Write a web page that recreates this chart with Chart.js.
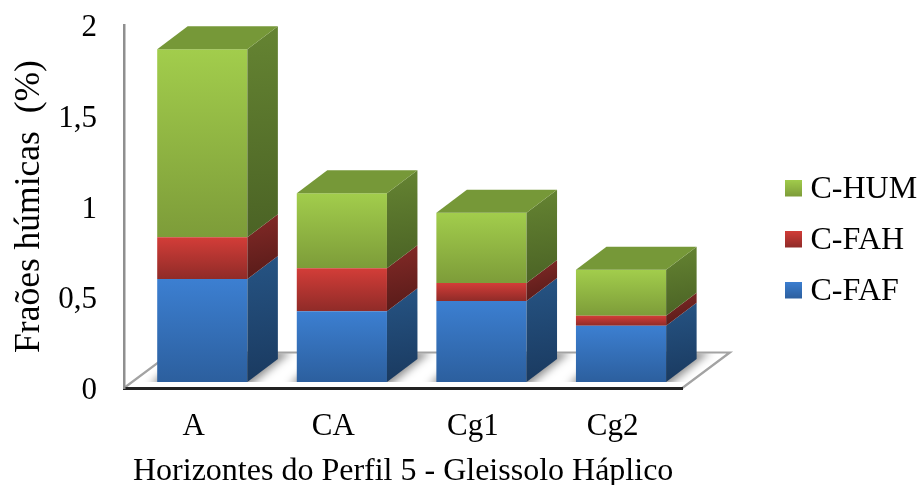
<!DOCTYPE html>
<html>
<head>
<meta charset="utf-8">
<title>Frações húmicas</title>
<script src="https://cdn.jsdelivr.net/npm/chart.js@4/dist/chart.umd.min.js"></script>
<style>
  html, body { margin: 0; padding: 0; background: #fff; }
  canvas { display: block; }
</style>
</head>
<body>
<canvas id="chart" width="919" height="485"></canvas>
<script>
// ---------------------------------data---------------------------------
const horizontes = ["A", "CA", "Cg1", "Cg2"];
const cFaf = [0.567, 0.39, 0.446, 0.31];
const cFah = [0.231, 0.237, 0.1, 0.055];
const cHum = [1.036, 0.413, 0.386, 0.253];
const yMax = 2;
const yStep = 0.5;

// [front top, front bottom, side top, side bottom, top face]
const blues = ['#3c7fd1', '#2c5f9e', '#265484', '#1a3a60', '#2f6299'];
const reds = ['#d33d38', '#8f2b28', '#842a27', '#581b19', '#a02f2b'];
const greens = ['#a2cd4c', '#7d9c39', '#658432', '#4b6325', '#769838'];

// ---------------------------------3d box-------------------------------
const fontName = '"Liberation Serif", "Times New Roman", serif';
const depthX = 30.5;
const depthY = 23;
const liftX = 8.5; // bars stand a bit inside the floor
const liftY = 6;
const floorX = 47.5;
const floorY = 35.5;

function frontFill(ctx, colors, below) {
    const chart = ctx.chart;
    if (!chart.chartArea) return colors[0];
    const i = ctx.dataIndex;
    const start = below.reduce((s, arr) => s + arr[i], 0);
    const y = chart.scales.y;
    const g = chart.ctx.createLinearGradient(0, y.getPixelForValue(start + ctx.raw), 0, y.getPixelForValue(start));
    g.addColorStop(0, colors[0]);
    g.addColorStop(1, colors[1]);
    return g;
}

// legend square, the empty strip below lifts it level with the text
function swatch(colors) {
    const c = document.createElement('canvas');
    c.width = 17;
    c.height = 21;
    const x = c.getContext('2d');
    const g = x.createLinearGradient(0, 0, 0, 17);
    g.addColorStop(0, colors[0]);
    g.addColorStop(1, colors[1]);
    x.fillStyle = g;
    x.fillRect(0, 0, 17, 17);
    return c;
}

function poly(ctx, pts, fill) {
    ctx.beginPath();
    pts.forEach((p, i) => i ? ctx.lineTo(p[0], p[1]) : ctx.moveTo(p[0], p[1]));
    ctx.closePath();
    ctx.fillStyle = fill;
    ctx.fill();
}

const box3d = {
    id: 'box3d',
    beforeDraw(chart) {
        // floor, the front edge comes from the x axis border
        const { ctx, chartArea: a } = chart;
        const backY = a.bottom - floorY;
        ctx.save();
        ctx.strokeStyle = '#a3a3a3';
        ctx.lineWidth = 2.2;
        ctx.beginPath();
        ctx.moveTo(a.left, a.bottom);
        ctx.lineTo(a.left + floorX, backY);
        ctx.lineTo(a.right + floorX, backY);
        ctx.lineTo(a.right, a.bottom);
        ctx.stroke();
        ctx.restore();

        // legend sits further right than the layout would put it
        chart.legend.left = 773.5;
        chart.legend.right = chart.width;
        chart.legend.top = 155;
    },
    beforeDatasetsDraw(chart) {
        const { ctx, chartArea: a } = chart;
        const first = chart.getDatasetMeta(0).data;

        // soft shadow of each bar on the floor
        ctx.save();
        ctx.beginPath();
        ctx.rect(a.left, a.bottom - floorY + 1, a.right + floorX - a.left, floorY - liftY - 1);
        ctx.clip();
        ctx.filter = 'blur(4px)';
        first.forEach(b => {
            const p = b.getProps(['x', 'base', 'width'], true);
            const l = p.x - p.width / 2 + liftX;
            const r = p.x + p.width / 2 + liftX;
            const y = p.base - liftY;
            poly(ctx, [[l - 8, y + 4], [r + 2, y + 4], [r + depthX + 14, y - depthY - 8], [l + depthX, y - depthY - 8]], 'rgba(0,0,0,0.45)');
        });
        ctx.restore();

        ctx.save();
        ctx.translate(liftX, -liftY);
    },
    afterDatasetsDraw(chart) {
        const { ctx } = chart;
        const palettes = [blues, reds, greens];
        const last = chart.data.datasets.length - 1;

        chart.data.datasets.forEach((ds, d) => {
            const colors = palettes[d];
            chart.getDatasetMeta(d).data.forEach(b => {
                const p = b.getProps(['x', 'y', 'base', 'width'], true);
                const r = p.x + p.width / 2;
                const l = p.x - p.width / 2;

                // right side of the segment
                const g = ctx.createLinearGradient(r, p.y - depthY, r + depthX * 0.4, p.base);
                g.addColorStop(0, colors[2]);
                g.addColorStop(1, colors[3]);
                poly(ctx, [[r, p.y], [r + depthX, p.y - depthY], [r + depthX, p.base - depthY], [r, p.base]], g);

                // lid on the top segment only
                if (d === last) {
                    poly(ctx, [[l, p.y], [l + depthX, p.y - depthY], [r + depthX, p.y - depthY], [r, p.y]], colors[4]);
                }
            });
        });
        ctx.restore();
    }
};

// ---------------------------------chart--------------------------------
new Chart(document.getElementById('chart'), {
    type: 'bar',
    data: {
        labels: horizontes,
        datasets: [
            { label: 'C-FAF', data: cFaf, backgroundColor: c => frontFill(c, blues, []) },
            { label: 'C-FAH', data: cFah, backgroundColor: c => frontFill(c, reds, [cFaf]) },
            { label: 'C-HUM', data: cHum, backgroundColor: c => frontFill(c, greens, [cFaf, cFah]) }
        ]
    },
    plugins: [box3d],
    options: {
        responsive: false,
        animation: false,
        barPercentage: 0.646,
        categoryPercentage: 1,
        layout: { padding: { left: 8, top: 25, right: 83, bottom: 0 } },
        plugins: {
            tooltip: { enabled: false },
            legend: {
                position: 'right',
                align: 'start',
                reverse: true,
                labels: {
                    usePointStyle: true,
                    boxWidth: 2,
                    padding: 19,
                    color: '#000',
                    font: { family: fontName, size: 32 },
                    generateLabels(chart) {
                        const swatches = [swatch(blues), swatch(reds), swatch(greens)];
                        return chart.data.datasets.map((ds, i) => ({
                            text: ds.label,
                            datasetIndex: i,
                            pointStyle: swatches[i],
                            lineWidth: 0,
                            fontColor: '#000'
                        }));
                    }
                }
            }
        },
        scales: {
            x: {
                stacked: true,
                grid: { display: false, drawTicks: false },
                border: { color: '#222', width: 3 },
                ticks: { color: '#000', padding: 20, maxRotation: 0, font: { family: fontName, size: 31 } },
                title: {
                    display: true,
                    text: 'Horizontes do Perfil 5 - Gleissolo Háplico',
                    color: '#000',
                    padding: { top: 6, bottom: -3 },
                    font: { family: fontName, size: 32, lineHeight: 1 }
                },
                afterFit: s => { s.height = 97; }
            },
            y: {
                stacked: true,
                min: 0,
                max: yMax,
                grid: { display: false, drawTicks: false },
                border: { color: '#8f8f8f', width: 2.5 },
                ticks: {
                    stepSize: yStep,
                    color: '#000',
                    padding: 27,
                    labelOffset: 3,
                    font: { family: fontName, size: 31 },
                    callback: v => String(v).replace('.', ',')
                },
                title: {
                    display: true,
                    text: 'Fraões húmicas  (%)',
                    color: '#000',
                    padding: { top: 0, bottom: 4 },
                    font: { family: fontName, size: 35.5 }
                },
                afterFit: s => { s.width = 116; s.paddingTop = 0; s.paddingBottom = 0; }
            }
        }
    }
});
</script>
</body>
</html>
